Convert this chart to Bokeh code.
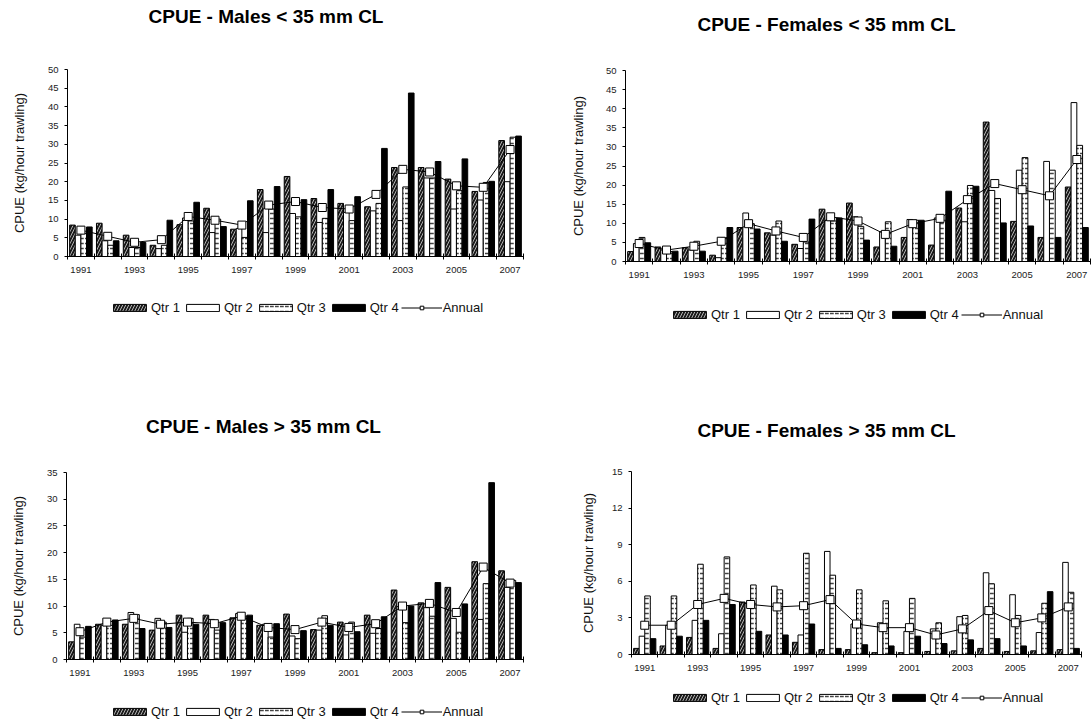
import math
from bokeh.plotting import figure
from bokeh.models import Range1d, FixedTicker, Legend, LegendItem, ColumnDataSource, Label
from bokeh.layouts import column, row
from bokeh.transform import dodge
from bokeh.embed import file_html
from bokeh.resources import INLINE

FONT = "Liberation Sans"

years = list(range(1991, 2008))
tick_years = list(range(1991, 2008, 2))
boundaries = [1990.5 + i for i in range(18)]

# CPUE - Males < 35 mm CL
m_lt_q1 = [8.4, 8.9, 5.7, 3.0, 8.5, 12.9, 7.3, 17.9, 21.4, 15.5, 14.2, 13.3, 23.8, 23.8, 20.7, 17.4, 31.0]
m_lt_q2 = [5.7, 4.2, 2.4, 2.1, 10.3, 6.4, 7.5, 6.4, 11.5, 9.1, 11.8, 12.2, 9.6, 21.0, 12.7, 15.1, 20.0]
m_lt_q3 = [6.2, 3.0, 2.4, 3.0, 9.5, 10.0, 5.1, 12.7, 10.6, 10.2, 9.6, 14.2, 18.6, 21.0, 17.6, 19.8, 31.9]
m_lt_q4 = [7.9, 4.2, 3.75, 9.7, 14.5, 8.0, 14.9, 18.7, 15.2, 17.9, 16.0, 28.9, 43.7, 25.4, 26.1, 20.1, 32.2]
m_lt_ann = [7.05, 5.4, 3.8, 4.5, 10.7, 9.7, 8.4, 13.75, 14.7, 13.1, 12.7, 16.6, 23.3, 22.6, 18.9, 18.5, 28.6]

# CPUE - Females < 35 mm CL
f_lt_q1 = [2.6, 3.8, 3.6, 1.65, 8.9, 7.5, 4.5, 13.7, 15.3, 3.8, 6.3, 4.3, 14.0, 36.5, 10.5, 6.3, 19.5]
f_lt_q2 = [4.7, 3.0, 3.0, 1.0, 12.7, 6.9, 3.4, 10.8, 11.7, 7.8, 11.0, 11.4, 10.4, 18.6, 23.9, 26.2, 41.6]
f_lt_q3 = [6.3, 2.6, 5.3, 6.2, 9.9, 10.6, 5.1, 10.6, 9.2, 10.4, 10.8, 10.8, 19.9, 16.5, 27.2, 23.9, 30.4]
f_lt_q4 = [4.9, 2.7, 2.7, 8.9, 8.5, 5.3, 11.1, 11.4, 5.6, 4.0, 10.8, 18.4, 19.7, 10.1, 9.3, 6.3, 8.9]
f_lt_ann = [4.7, 3.0, 4.0, 5.3, 9.9, 8.0, 6.3, 11.7, 10.6, 7.1, 9.9, 11.3, 16.2, 20.4, 18.8, 17.2, 26.7]

# CPUE - Males > 35 mm CL
m_gt_q1 = [3.3, 6.6, 6.6, 5.5, 8.3, 8.3, 7.8, 6.4, 8.5, 5.6, 7.0, 8.3, 13.0, 10.6, 13.5, 18.3, 16.6]
m_gt_q2 = [6.6, 6.4, 8.8, 7.7, 5.1, 7.5, 8.6, 6.6, 4.4, 5.5, 4.6, 4.9, 9.9, 9.7, 7.7, 7.5, 13.5]
m_gt_q3 = [4.2, 6.4, 8.4, 7.0, 7.7, 5.5, 8.1, 4.2, 3.9, 8.2, 7.0, 5.8, 6.9, 8.1, 5.1, 14.2, 14.8]
m_gt_q4 = [6.2, 7.4, 5.8, 6.0, 6.6, 6.9, 8.3, 6.7, 5.4, 6.4, 5.2, 8.0, 10.0, 14.4, 10.4, 33.1, 14.4]
m_gt_ann = [5.2, 7.0, 7.7, 6.6, 7.0, 6.7, 8.1, 6.0, 5.6, 7.0, 6.0, 6.7, 10.0, 10.5, 8.8, 17.3, 14.3]

# CPUE - Females > 35 mm CL
f_gt_q1 = [0.5, 0.7, 1.4, 0.5, 4.3, 1.6, 1.0, 0.4, 0.4, 0.15, 0.15, 0.25, 0.3, 0.5, 0.25, 0.3, 0.4]
f_gt_q2 = [1.5, 2.4, 2.8, 1.7, 4.2, 5.6, 1.6, 8.45, 2.5, 2.6, 1.9, 2.1, 3.1, 6.7, 4.9, 1.8, 7.55]
f_gt_q3 = [4.8, 4.8, 7.4, 8.0, 5.7, 5.3, 8.3, 6.5, 5.3, 4.4, 4.6, 2.6, 3.2, 5.8, 3.2, 4.2, 5.1]
f_gt_q4 = [1.3, 1.5, 2.8, 4.1, 1.9, 1.6, 2.5, 0.5, 0.8, 0.7, 1.5, 0.9, 1.2, 1.3, 0.7, 5.15, 0.5]
f_gt_ann = [2.4, 2.4, 4.1, 4.6, 4.1, 3.9, 4.0, 4.5, 2.5, 2.2, 2.2, 1.6, 2.1, 3.6, 2.6, 3.0, 3.9]

series_labels = ["Qtr 1", "Qtr 2", "Qtr 3", "Qtr 4", "Annual"]
y_title = "CPUE (kg/hour trawling)"


def make_panel(title, q1, q2, q3, q4, ann, ymax, ystep,
               W, H, axl, axr, y0px, ytpx,
               title_cx, title_cy, ylab_x, leg_x, leg_cy):
    # frame fills the whole canvas; ranges set so the plot area lands where wanted
    xpp = 17.0 / (axr - axl)
    x0 = 1990.5 - axl * xpp
    x1 = 2007.5 + (W - axr) * xpp
    ypp = ymax / float(y0px - ytpx)
    y1 = ymax + ytpx * ypp
    y0 = -(H - y0px) * ypp

    def px_x(px):
        return x0 + px * xpp

    def px_y(py):
        return y1 - py * ypp

    p = figure(width=W, height=H, output_backend="svg", toolbar_location=None,
               x_range=Range1d(x0, x1), y_range=Range1d(y0, y1),
               min_border=0, min_border_left=0, min_border_right=0,
               min_border_top=0, min_border_bottom=0)
    p.outline_line_color = None
    p.xgrid.visible = False
    p.ygrid.visible = False
    p.background_fill_color = "white"
    p.border_fill_color = "white"

    src = ColumnDataSource(dict(year=years, q1=q1, q2=q2, q3=q3, q4=q4, ann=ann))
    bw = 0.21
    r1 = p.vbar(x=dodge("year", -0.315, range=p.x_range), top="q1", width=bw, source=src,
                fill_color="#1a1a1a", line_color="black", line_width=1,
                hatch_pattern="right_diagonal_line", hatch_color="#b4b4b4",
                hatch_scale=6, hatch_weight=1.0)
    r2 = p.vbar(x=dodge("year", -0.105, range=p.x_range), top="q2", width=bw, source=src,
                fill_color="white", line_color="black", line_width=1)
    r3 = p.vbar(x=dodge("year", 0.105, range=p.x_range), top="q3", width=bw, source=src,
                fill_color="white", line_color="black", line_width=1,
                hatch_pattern="horizontal_dash", hatch_color="#444444",
                hatch_scale=5, hatch_weight=1.5)
    r4 = p.vbar(x=dodge("year", 0.315, range=p.x_range), top="q4", width=bw, source=src,
                fill_color="black", line_color="black", line_width=1)
    rl = p.line(x="year", y="ann", source=src, line_color="black", line_width=1)
    rs = p.scatter(x="year", y="ann", source=src, marker="square", size=8,
                   fill_color="white", line_color="black", line_width=1)

    # axes drawn at fixed data locations inside the frame
    p.xaxis.fixed_location = 0
    p.xaxis.bounds = (1990.5, 2007.5)
    p.xaxis.ticker = FixedTicker(ticks=tick_years, minor_ticks=boundaries)
    p.xaxis.major_tick_out = 0
    p.xaxis.major_tick_in = 0
    p.xaxis.minor_tick_out = 3
    p.xaxis.minor_tick_in = 3
    p.xaxis.major_label_standoff = 7
    p.yaxis.fixed_location = 1990.5
    p.yaxis.bounds = (0, ymax)
    p.yaxis.ticker = FixedTicker(ticks=list(range(0, ymax + 1, ystep)), minor_ticks=[])
    p.yaxis.major_tick_out = 3
    p.yaxis.major_tick_in = 0
    p.yaxis.major_label_standoff = 6
    for ax in (p.xaxis, p.yaxis):
        ax.axis_line_color = "black"
        ax.major_tick_line_color = "black"
        ax.minor_tick_line_color = "black"
        ax.major_label_text_font = FONT
        ax.major_label_text_font_size = "9.5px"
        ax.major_label_text_color = "#222222"

    # title and y-axis title
    p.add_layout(Label(x=px_x(title_cx), y=px_y(title_cy), text=title,
                       text_font=FONT, text_font_size="19px", text_font_style="bold",
                       text_color="black", text_align="center", text_baseline="middle"))
    p.add_layout(Label(x=px_x(ylab_x), y=ymax / 2.0, text=y_title, angle=math.pi / 2,
                       text_font=FONT, text_font_size="13px", text_color="#111111",
                       text_align="center", text_baseline="middle"))

    items = [LegendItem(label=series_labels[0], renderers=[r1]),
             LegendItem(label=series_labels[1], renderers=[r2]),
             LegendItem(label=series_labels[2], renderers=[r3]),
             LegendItem(label=series_labels[3], renderers=[r4]),
             LegendItem(label=series_labels[4], renderers=[rl, rs])]
    leg_h = 15
    leg = Legend(items=items, orientation="horizontal",
                 location=(leg_x, H - (leg_cy + leg_h / 2.0)),
                 glyph_width=41, glyph_height=9, label_height=9, label_width=10,
                 label_standoff=1, spacing=2, padding=0, margin=0,
                 border_line_color=None, background_fill_alpha=0,
                 label_text_font=FONT, label_text_font_size="13px",
                 label_text_color="#111111")
    p.add_layout(leg, "center")
    return p


p1 = make_panel("CPUE - Males < 35 mm CL", m_lt_q1, m_lt_q2, m_lt_q3, m_lt_q4, m_lt_ann, 50, 5,
                560, 400, 67, 523, 256, 69, 265.5, 16, 19, 109, 307)
p2 = make_panel("CPUE - Females < 35 mm CL", f_lt_q1, f_lt_q2, f_lt_q3, f_lt_q4, f_lt_ann, 50, 5,
                531, 400, 65, 530, 261, 70, 266, 24, 17.5, 109, 314.5)
p3 = make_panel("CPUE - Males > 35 mm CL", m_gt_q1, m_gt_q2, m_gt_q3, m_gt_q4, m_gt_ann, 35, 5,
                560, 322, 66, 523, 259, 72, 263, 26, 18, 109, 311)
p4 = make_panel("CPUE - Females > 35 mm CL", f_gt_q1, f_gt_q2, f_gt_q3, f_gt_q4, f_gt_ann, 15, 3,
                531, 322, 71, 521, 254, 71, 266, 30, 28, 109, 297)

layout = column(row(p1, p2, spacing=0), row(p3, p4, spacing=0), spacing=0)
open("out.html", "w").write(file_html(layout, INLINE))
